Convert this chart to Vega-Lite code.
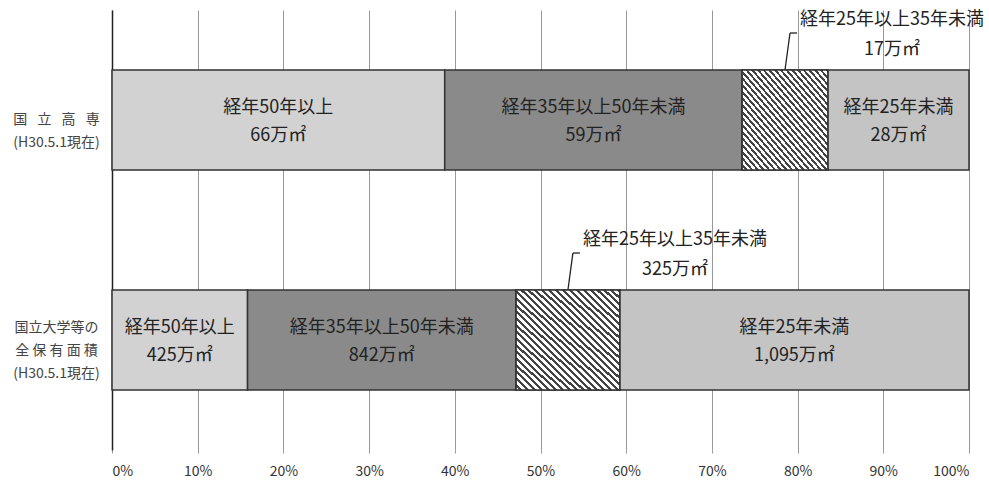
{
  "$schema": "https://vega.github.io/schema/vega-lite/v6.json",
  "width": 857,
  "height": 440,
  "autosize": "none",
  "padding": {"left": 112, "top": 10, "right": 20, "bottom": 30},
  "background": "white",
  "config": {"view": {"stroke": null}, "font": "Noto Sans CJK JP"},
  "data": {"values": [
    {"cat": "国立高専", "seg": "経年50年以上", "k": 1, "v": 66},
    {"cat": "国立高専", "seg": "経年35年以上50年未満", "k": 2, "v": 59},
    {"cat": "国立高専", "seg": "経年25年以上35年未満", "k": 3, "v": 17},
    {"cat": "国立高専", "seg": "経年25年未満", "k": 4, "v": 28},
    {"cat": "国立大学等の全保有面積", "seg": "経年50年以上", "k": 1, "v": 425},
    {"cat": "国立大学等の全保有面積", "seg": "経年35年以上50年未満", "k": 2, "v": 842},
    {"cat": "国立大学等の全保有面積", "seg": "経年25年以上35年未満", "k": 3, "v": 325},
    {"cat": "国立大学等の全保有面積", "seg": "経年25年未満", "k": 4, "v": 1095}
  ]},
  "transform": [
    {"stack": "v", "groupby": ["cat"], "sort": [{"field": "k", "order": "ascending"}], "offset": "normalize", "as": ["s0", "s1"]},
    {"calculate": "(datum.s0 + datum.s1) / 2", "as": "mid"},
    {"calculate": "datum.seg + '\\n' + format(datum.v, ',') + '万㎡'", "as": "lbl"}
  ],
  "encoding": {
    "y": {
      "field": "cat", "type": "nominal",
      "sort": ["国立高専", "国立大学等の全保有面積"],
      "scale": {"paddingInner": 0.5455, "paddingOuter": 0.2727},
      "axis": {
        "title": null, "ticks": false, "grid": false,
        "domainColor": "#222", "domainWidth": 1.5,
        "labelAlign": "center", "labelBaseline": "middle",
        "labelPadding": 56, "labelFontSize": 14, "labelColor": "#444",
        "labelLineHeight": 23, "labelLimit": 0,
        "labelOffset": {"condition": {"test": "datum.value == '国立高専'", "value": 0}, "value": -12},
        "labelExpr": "datum.value == '国立高専' ? ['国\u2002 立\u2002 高\u2002 専', '(H30.5.1現在)'] : ['国立大学等の', '全 保 有 面 積', '(H30.5.1現在)']"
      }
    }
  },
  "layer": [
    {
      "mark": {"type": "bar", "stroke": "#333", "strokeWidth": 1.5},
      "encoding": {
        "x": {
          "field": "s0", "type": "quantitative", "title": null,
          "scale": {"domain": [0, 1]},
          "axis": {
            "title": null, "format": ".0%",
            "values": [0, 0.1, 0.2, 0.3, 0.4, 0.5, 0.6, 0.7, 0.8, 0.9, 1],
            "grid": true, "gridColor": "#999", "gridWidth": 1,
            "domain": false, "ticks": true, "tickSize": 3, "tickColor": "#999",
            "labelFontSize": 14, "labelColor": "#333", "labelPadding": 11
          }
        },
        "x2": {"field": "s1"},
        "color": {
          "field": "seg", "type": "nominal", "legend": null,
          "scale": {
            "domain": ["経年50年以上", "経年35年以上50年未満", "経年25年以上35年未満", "経年25年未満"],
            "range": ["#d2d2d2", "#8a8a8a", "#a0a0a0", "#c4c4c4"]
          }
        }
      }
    },
    {
      "transform": [{"filter": "datum.k == 3"}],
      "mark": {
        "type": "bar", "stroke": "#333", "strokeWidth": 1.5,
        "fill": {
          "gradient": "linear", "x1": 0, "y1": 1, "x2": 1, "y2": 0,
          "stops": [
            {"offset": 0, "color": "#ffffff"}, {"offset": 0.0183, "color": "#ffffff"}, {"offset": 0.0183, "color": "#444444"}, {"offset": 0.0333, "color": "#444444"},
            {"offset": 0.0333, "color": "#ffffff"}, {"offset": 0.0517, "color": "#ffffff"}, {"offset": 0.0517, "color": "#444444"}, {"offset": 0.0667, "color": "#444444"},
            {"offset": 0.0667, "color": "#ffffff"}, {"offset": 0.085, "color": "#ffffff"}, {"offset": 0.085, "color": "#444444"}, {"offset": 0.1, "color": "#444444"},
            {"offset": 0.1, "color": "#ffffff"}, {"offset": 0.1183, "color": "#ffffff"}, {"offset": 0.1183, "color": "#444444"}, {"offset": 0.1333, "color": "#444444"},
            {"offset": 0.1333, "color": "#ffffff"}, {"offset": 0.1517, "color": "#ffffff"}, {"offset": 0.1517, "color": "#444444"}, {"offset": 0.1667, "color": "#444444"},
            {"offset": 0.1667, "color": "#ffffff"}, {"offset": 0.185, "color": "#ffffff"}, {"offset": 0.185, "color": "#444444"}, {"offset": 0.2, "color": "#444444"},
            {"offset": 0.2, "color": "#ffffff"}, {"offset": 0.2183, "color": "#ffffff"}, {"offset": 0.2183, "color": "#444444"}, {"offset": 0.2333, "color": "#444444"},
            {"offset": 0.2333, "color": "#ffffff"}, {"offset": 0.2517, "color": "#ffffff"}, {"offset": 0.2517, "color": "#444444"}, {"offset": 0.2667, "color": "#444444"},
            {"offset": 0.2667, "color": "#ffffff"}, {"offset": 0.285, "color": "#ffffff"}, {"offset": 0.285, "color": "#444444"}, {"offset": 0.3, "color": "#444444"},
            {"offset": 0.3, "color": "#ffffff"}, {"offset": 0.3183, "color": "#ffffff"}, {"offset": 0.3183, "color": "#444444"}, {"offset": 0.3333, "color": "#444444"},
            {"offset": 0.3333, "color": "#ffffff"}, {"offset": 0.3517, "color": "#ffffff"}, {"offset": 0.3517, "color": "#444444"}, {"offset": 0.3667, "color": "#444444"},
            {"offset": 0.3667, "color": "#ffffff"}, {"offset": 0.385, "color": "#ffffff"}, {"offset": 0.385, "color": "#444444"}, {"offset": 0.4, "color": "#444444"},
            {"offset": 0.4, "color": "#ffffff"}, {"offset": 0.4183, "color": "#ffffff"}, {"offset": 0.4183, "color": "#444444"}, {"offset": 0.4333, "color": "#444444"},
            {"offset": 0.4333, "color": "#ffffff"}, {"offset": 0.4517, "color": "#ffffff"}, {"offset": 0.4517, "color": "#444444"}, {"offset": 0.4667, "color": "#444444"},
            {"offset": 0.4667, "color": "#ffffff"}, {"offset": 0.485, "color": "#ffffff"}, {"offset": 0.485, "color": "#444444"}, {"offset": 0.5, "color": "#444444"},
            {"offset": 0.5, "color": "#ffffff"}, {"offset": 0.5183, "color": "#ffffff"}, {"offset": 0.5183, "color": "#444444"}, {"offset": 0.5333, "color": "#444444"},
            {"offset": 0.5333, "color": "#ffffff"}, {"offset": 0.5517, "color": "#ffffff"}, {"offset": 0.5517, "color": "#444444"}, {"offset": 0.5667, "color": "#444444"},
            {"offset": 0.5667, "color": "#ffffff"}, {"offset": 0.585, "color": "#ffffff"}, {"offset": 0.585, "color": "#444444"}, {"offset": 0.6, "color": "#444444"},
            {"offset": 0.6, "color": "#ffffff"}, {"offset": 0.6183, "color": "#ffffff"}, {"offset": 0.6183, "color": "#444444"}, {"offset": 0.6333, "color": "#444444"},
            {"offset": 0.6333, "color": "#ffffff"}, {"offset": 0.6517, "color": "#ffffff"}, {"offset": 0.6517, "color": "#444444"}, {"offset": 0.6667, "color": "#444444"},
            {"offset": 0.6667, "color": "#ffffff"}, {"offset": 0.685, "color": "#ffffff"}, {"offset": 0.685, "color": "#444444"}, {"offset": 0.7, "color": "#444444"},
            {"offset": 0.7, "color": "#ffffff"}, {"offset": 0.7183, "color": "#ffffff"}, {"offset": 0.7183, "color": "#444444"}, {"offset": 0.7333, "color": "#444444"},
            {"offset": 0.7333, "color": "#ffffff"}, {"offset": 0.7517, "color": "#ffffff"}, {"offset": 0.7517, "color": "#444444"}, {"offset": 0.7667, "color": "#444444"},
            {"offset": 0.7667, "color": "#ffffff"}, {"offset": 0.785, "color": "#ffffff"}, {"offset": 0.785, "color": "#444444"}, {"offset": 0.8, "color": "#444444"},
            {"offset": 0.8, "color": "#ffffff"}, {"offset": 0.8183, "color": "#ffffff"}, {"offset": 0.8183, "color": "#444444"}, {"offset": 0.8333, "color": "#444444"},
            {"offset": 0.8333, "color": "#ffffff"}, {"offset": 0.8517, "color": "#ffffff"}, {"offset": 0.8517, "color": "#444444"}, {"offset": 0.8667, "color": "#444444"},
            {"offset": 0.8667, "color": "#ffffff"}, {"offset": 0.885, "color": "#ffffff"}, {"offset": 0.885, "color": "#444444"}, {"offset": 0.9, "color": "#444444"},
            {"offset": 0.9, "color": "#ffffff"}, {"offset": 0.9183, "color": "#ffffff"}, {"offset": 0.9183, "color": "#444444"}, {"offset": 0.9333, "color": "#444444"},
            {"offset": 0.9333, "color": "#ffffff"}, {"offset": 0.9517, "color": "#ffffff"}, {"offset": 0.9517, "color": "#444444"}, {"offset": 0.9667, "color": "#444444"},
            {"offset": 0.9667, "color": "#ffffff"}, {"offset": 0.985, "color": "#ffffff"}, {"offset": 0.985, "color": "#444444"}, {"offset": 1, "color": "#444444"}
          ]
        }
      },
      "encoding": {
        "x": {"field": "s0", "type": "quantitative", "title": null},
        "x2": {"field": "s1"}
      }
    },
    {
      "transform": [{"filter": "datum.k != 3"}],
      "mark": {"type": "text", "fontSize": 18, "lineBreak": "\n", "lineHeight": 28, "dy": -12, "color": "#222", "align": "center", "baseline": "middle"},
      "encoding": {
        "x": {"field": "mid", "type": "quantitative", "title": null},
        "text": {"field": "lbl"}
      }
    },
    {
      "transform": [{"filter": "datum.k == 3"}],
      "mark": {"type": "text", "fontSize": 18, "lineBreak": "\n", "lineHeight": 30, "dx": 107, "dy": -100, "color": "#222", "align": "center", "baseline": "middle"},
      "encoding": {
        "x": {"field": "mid", "type": "quantitative", "title": null},
        "text": {"field": "lbl"}
      }
    },
    {
      "transform": [{"filter": "datum.k == 3"}],
      "mark": {"type": "rule", "color": "#222", "strokeWidth": 1.3, "yOffset": -50, "y2Offset": -87, "x2Offset": 5},
      "encoding": {
        "x": {"field": "mid", "type": "quantitative", "title": null},
        "x2": {"field": "mid"},
        "y2": {"field": "cat"}
      }
    },
    {
      "transform": [{"filter": "datum.k == 3"}],
      "mark": {"type": "rule", "color": "#222", "strokeWidth": 1.3, "yOffset": -87, "xOffset": 5, "x2Offset": 12},
      "encoding": {
        "x": {"field": "mid", "type": "quantitative", "title": null},
        "x2": {"field": "mid"}
      }
    }
  ]
}
